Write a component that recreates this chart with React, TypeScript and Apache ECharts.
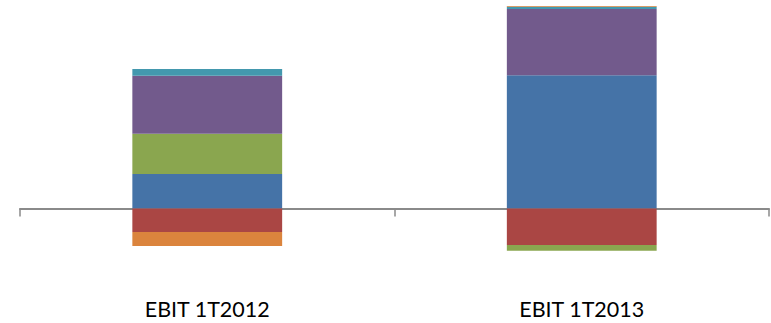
import React, { useEffect, useRef } from "react";
import * as echarts from "echarts";

// Quarterly EBIT bridge components, stacked per period
const categories = ["EBIT 1T2012", "EBIT 1T2013"];
const seriesNames = ["Serie 1", "Serie 2", "Serie 3", "Serie 4", "Serie 5", "Serie 6"];
const serie1 = [34.5, 133.2];
const serie2 = [-23.5, -36.5];
const serie3 = [40.3, -5.7];
const serie4 = [58.0, 66.3];
const serie5 = [6.7, 2.3];
const serie6 = [-14.0, 0.7];
const colors = ["#4573A7", "#AA4644", "#8AA64F", "#725A8C", "#4398AE", "#DB843D"];

export default function App() {
  const ref = useRef<HTMLDivElement>(null);
  useEffect(() => {
    if (!ref.current) return;
    const chart = echarts.init(ref.current, undefined, { renderer: "svg" });
    const values = [serie1, serie2, serie3, serie4, serie5, serie6];
    chart.setOption({
      animation: false,
      grid: { left: 20, right: 2, top: 3.5, bottom: 34.5, containLabel: false },
      xAxis: [
        {
          type: "category",
          data: categories,
          axisLine: { onZero: true, lineStyle: { color: "#8a8a8a", width: 1.8 } },
          axisTick: { show: true, length: 8, lineStyle: { color: "#8a8a8a", width: 1.5 } },
          axisLabel: { show: false },
        },
        {
          type: "category",
          data: categories,
          position: "bottom",
          axisLine: { show: false, onZero: false },
          axisTick: { show: false },
          axisLabel: {
            show: true,
            margin: 9,
            color: "#000",
            fontSize: 21.5,
            fontFamily: "Lato",
          },
        },
      ],
      yAxis: {
        type: "value",
        min: -80,
        max: 205,
        show: false,
        splitLine: { show: false },
      },
      series: values.map((d, i) => ({
        name: seriesNames[i],
        type: "bar",
        stack: "ebit",
        xAxisIndex: 0,
        barWidth: "40%",
        data: d,
        itemStyle: { color: colors[i] },
      })),
    });
    return () => chart.dispose();
  }, []);
  return <div ref={ref} style={{ width: 771, height: 323, position: "absolute", left: 0, top: 0 }} />;
}
